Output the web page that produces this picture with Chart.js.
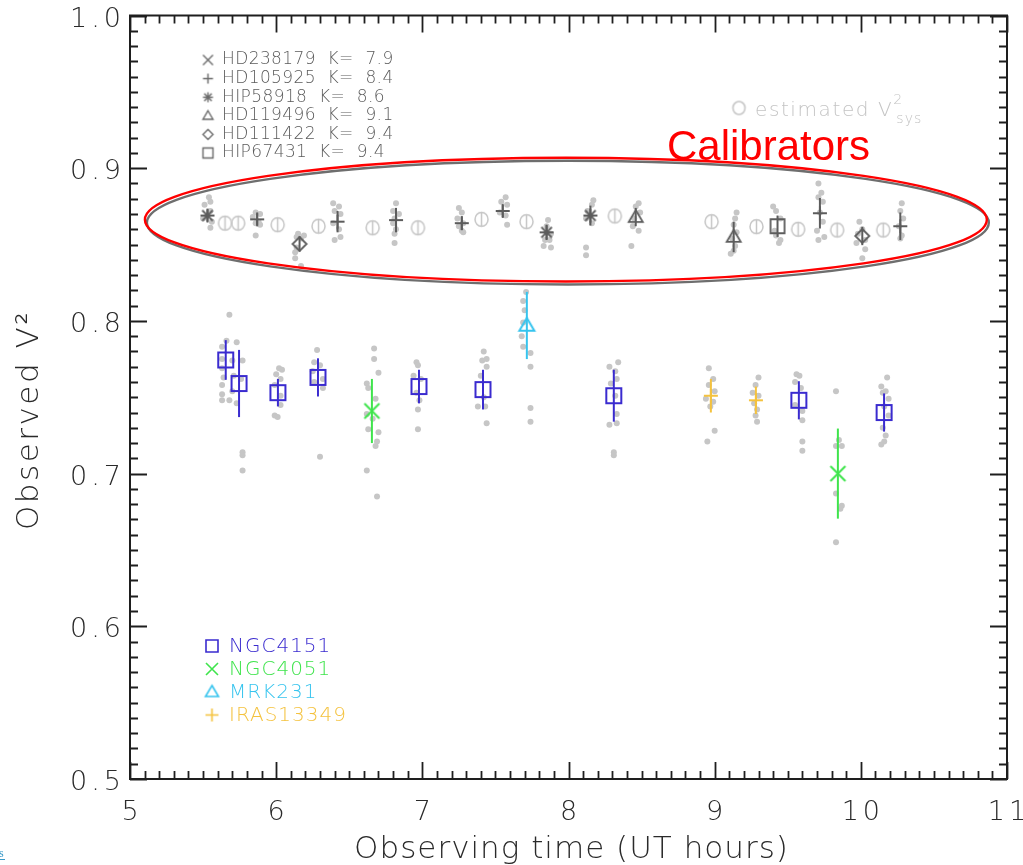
<!DOCTYPE html>
<html><head><meta charset="utf-8">
<script src="https://cdn.jsdelivr.net/npm/chart.js@4.4.1/dist/chart.umd.min.js"></script>
<style>html,body{margin:0;padding:0;background:#fff;}#wrap{width:1023px;height:865px;position:relative;}</style>
</head><body><div id="wrap"><canvas id="c" width="1023" height="865"></canvas></div>
<script>
// ---------- DATA ----------
const xRange = [5, 11];
const yRange = [0.5, 1.0];

const calNames = ['HD238179','HD105925','HIP58918','HD119496','HD111422','HIP67431'];
const calK     = ['7.9','8.4','8.6','9.1','9.4','9.4'];

// calibrator mean V2 per observation (calId = index into calNames)
const calTime = [5.53, 5.87, 6.16, 6.42, 6.82, 7.27, 7.55, 7.85, 8.15, 8.46, 9.13, 9.43, 9.72, 10.01, 10.27];
const calV2   = [0.869,0.8665,0.8504,0.865,0.866,0.864,0.872,0.858,0.869,0.868,0.855,0.862,0.8705,0.8556,0.862];
const calErr  = [0.004,0.004,0.005,0.007,0.008,0.0045,0.004,0.005,0.0065,0.006,0.010,0.007,0.010,0.006,0.009];
const calId   = [2, 1, 4, 1, 1, 1, 1, 2, 2, 3, 3, 5, 1, 4, 1];

// estimated V2_sys at science target times
const estTime = [5.65,5.74,6.01,6.29,6.66,6.97,7.405,7.713,8.317,8.979,9.286,9.571,9.838,10.153];
const estV2   = [0.864,0.864,0.863,0.862,0.861,0.861,0.8665,0.865,0.8687,0.865,0.8617,0.860,0.8595,0.8595];

const targetNames = ['NGC4151','NGC4051','MRK231','IRAS13349'];
const ngc4151T = [5.655,5.746,6.012,6.286,6.977,7.415,8.31,9.576,10.159];
const ngc4151V = [0.7744,0.759,0.753,0.763,0.757,0.755,0.751,0.748,0.740];
const ngc4151E = [0.013,0.022,0.009,0.0125,0.011,0.013,0.017,0.0125,0.0125];
const ngc4051T = [6.655, 9.843];
const ngc4051V = [0.741, 0.700];
const ngc4051E = [0.021, 0.0295];
const mrk231T  = [7.715];
const mrk231V  = [0.797];
const mrk231E  = [0.022];
const iras13349T = [8.974, 9.282];
const iras13349V = [0.751, 0.748];
const iras13349E = [0.011, 0.009];

// individual frames (time, V2)
const calFrames = [
 [5.54,0.881],[5.55,0.878],[5.51,0.876],[5.55,0.872],[5.50,0.867],[5.56,0.865],[5.55,0.861],
 [5.86,0.871],[5.89,0.870],[5.84,0.868],[5.88,0.865],[5.86,0.864],[5.89,0.863],[5.86,0.856],
 [6.15,0.857],[6.19,0.856],[6.14,0.855],[6.17,0.854],[6.14,0.848],[6.13,0.845],[6.13,0.841],[6.17,0.836],
 [6.39,0.877],[6.43,0.875],[6.40,0.872],[6.44,0.870],[6.39,0.864],[6.43,0.860],[6.44,0.855],[6.40,0.853],
 [6.82,0.877],[6.80,0.872],[6.84,0.870],[6.81,0.867],[6.80,0.864],[6.82,0.860],[6.81,0.857],[6.81,0.851],
 [7.25,0.874],[7.27,0.871],[7.24,0.867],[7.28,0.864],[7.25,0.862],[7.27,0.859],[7.28,0.858],
 [7.57,0.881],[7.54,0.878],[7.58,0.876],[7.53,0.871],[7.57,0.869],[7.58,0.863],
 [7.86,0.866],[7.85,0.862],[7.88,0.857],[7.84,0.853],[7.87,0.853],[7.83,0.849],[7.88,0.848],
 [8.17,0.879],[8.16,0.876],[8.13,0.872],[8.12,0.867],[8.16,0.864],[8.12,0.848],[8.12,0.843],
 [8.48,0.877],[8.46,0.875],[8.49,0.871],[8.45,0.867],[8.44,0.862],[8.48,0.859],[8.43,0.849],
 [9.15,0.871],[9.14,0.867],[9.13,0.863],[9.15,0.858],[9.12,0.854],[9.14,0.849],[9.13,0.846],[9.11,0.844],
 [9.40,0.875],[9.42,0.872],[9.45,0.867],[9.41,0.859],[9.42,0.856],[9.45,0.853],[9.44,0.851],
 [9.71,0.890],[9.73,0.884],[9.71,0.881],[9.74,0.878],[9.72,0.871],[9.74,0.865],[9.70,0.859],[9.75,0.855],[9.71,0.853],
 [9.99,0.865],[10.01,0.860],[9.98,0.857],[10.03,0.853],[9.97,0.851],[10.03,0.847],[10.01,0.841],
 [10.28,0.877],[10.27,0.872],[10.29,0.867],[10.26,0.862],[10.28,0.856],[10.27,0.854]
];
const targetFrames = [
 [5.68,0.804],[5.63,0.783],[5.66,0.787],[5.73,0.786],[5.63,0.775],[5.70,0.774],[5.77,0.774],[5.63,0.769],[5.64,0.763],[5.71,0.764],
 [5.76,0.762],[5.63,0.758],[5.70,0.754],[5.63,0.752],[5.63,0.748],[5.68,0.748],[5.73,0.746],[5.77,0.714],[5.77,0.712],[5.77,0.702],
 [6.02,0.769],[6.04,0.768],[6.00,0.765],[6.03,0.762],[5.99,0.758],[6.03,0.751],[6.03,0.745],[5.99,0.738],[6.01,0.737],
 [6.28,0.781],[6.26,0.773],[6.30,0.771],[6.25,0.767],[6.32,0.762],[6.26,0.760],[6.32,0.756],[6.30,0.711],
 [6.67,0.782],[6.67,0.775],[6.70,0.766],[6.62,0.759],[6.63,0.756],[6.68,0.749],[6.62,0.739],[6.66,0.736],[6.63,0.729],[6.70,0.727],
 [6.69,0.721],[6.68,0.718],[6.62,0.702],[6.69,0.685],
 [6.96,0.773],[6.97,0.771],[6.94,0.764],[6.99,0.762],[6.96,0.753],[6.98,0.748],[6.97,0.742],[6.97,0.729],
 [7.42,0.780],[7.41,0.774],[7.44,0.775],[7.44,0.770],[7.40,0.764],[7.42,0.750],[7.38,0.744],[7.43,0.744],[7.44,0.733],
 [7.71,0.819],[7.69,0.813],[7.70,0.807],[7.69,0.799],[7.68,0.790],[7.69,0.783],[7.74,0.779],[7.74,0.770],[7.74,0.743],[7.74,0.734],
 [8.28,0.770],[8.34,0.773],[8.32,0.767],[8.33,0.762],[8.29,0.759],[8.32,0.751],[8.33,0.739],[8.28,0.732],[8.33,0.733],[8.31,0.714],[8.31,0.712],
 [8.96,0.769],[8.99,0.762],[8.96,0.758],[9.00,0.754],[8.94,0.749],[8.99,0.747],[8.97,0.744],[9.00,0.728],[8.95,0.721],
 [9.30,0.763],[9.28,0.758],[9.26,0.753],[9.30,0.751],[9.27,0.746],[9.29,0.742],[9.28,0.738],[9.29,0.734],
 [9.56,0.765],[9.58,0.764],[9.55,0.760],[9.59,0.756],[9.55,0.745],[9.60,0.741],[9.60,0.735],[9.60,0.721],[9.60,0.715],
 [9.83,0.754],[9.85,0.722],[9.83,0.718],[9.87,0.718],[9.83,0.687],[9.87,0.679],[9.86,0.677],[9.83,0.655],
 [10.18,0.763],[10.14,0.757],[10.17,0.754],[10.15,0.753],[10.19,0.749],[10.16,0.744],[10.19,0.738],[10.15,0.730],[10.17,0.725],[10.16,0.721],[10.14,0.719]
];

// highlight ellipse round calibrators (data units)
const ellipseCentre = [7.982, 0.8663];
const ellipseRadii  = [2.88, 0.0405];

// ---------- STYLE ----------
const FONT = 'DejaVu Sans';
const CAL_COL = '#5c5c5c';
const EST_COL = '#c6c6c6';
const DOT_COL = '#c6c6c6';
const TCOL = {NGC4151:'#3a2bcf', NGC4051:'#3fe44c', MRK231:'#36c4ee', IRAS13349:'#f4c23e'};

function sym(kind, color, r, lw){
  const s = Math.ceil(2*r + 2*lw + 4);
  const c = document.createElement('canvas'); c.width = s; c.height = s;
  const g = c.getContext('2d'); const m = s/2;
  g.strokeStyle = color; g.lineWidth = lw; g.lineCap = 'butt';
  g.beginPath();
  if(kind==='square'){ g.rect(m-r, m-r, 2*r, 2*r); }
  else if(kind==='x'){ g.moveTo(m-r,m-r); g.lineTo(m+r,m+r); g.moveTo(m+r,m-r); g.lineTo(m-r,m+r); }
  else if(kind==='plus'){ g.moveTo(m-r,m); g.lineTo(m+r,m); g.moveTo(m,m-r); g.lineTo(m,m+r); }
  else if(kind==='star'){ const d=r*0.75; g.moveTo(m-r,m); g.lineTo(m+r,m); g.moveTo(m,m-r); g.lineTo(m,m+r);
     g.moveTo(m-d,m-d); g.lineTo(m+d,m+d); g.moveTo(m+d,m-d); g.lineTo(m-d,m+d); }
  else if(kind==='tri'){ g.moveTo(m, m-r); g.lineTo(m+r, m+r*0.7); g.lineTo(m-r, m+r*0.7); g.closePath(); }
  else if(kind==='diamond'){ g.moveTo(m, m-r); g.lineTo(m+r, m); g.lineTo(m, m+r); g.lineTo(m-r, m); g.closePath(); }
  else if(kind==='circle'){ g.ellipse(m, m, r*0.93, r, 0, 0, Math.PI*2); }
  else if(kind==='phi'){ g.ellipse(m, m, r*0.93, r, 0, 0, Math.PI*2); g.moveTo(m, m-r); g.lineTo(m, m+r); }
  g.stroke();
  return c;
}
const calKinds = ['x','plus','star','tri','diamond','square'];
const calSym = calKinds.map(k => sym(k, CAL_COL, 7, 1.8));
const calLegSym = calKinds.map(k => sym(k, '#6a6a6a', 5, 1.4));
const tgtSym = {
  NGC4151: sym('square', TCOL.NGC4151, 7.5, 2),
  NGC4051: sym('x', TCOL.NGC4051, 7.5, 2),
  MRK231: sym('tri', TCOL.MRK231, 7.5, 2),
  IRAS13349: sym('plus', TCOL.IRAS13349, 7, 2)
};
const tgtLegSym = {
  NGC4151: sym('square', TCOL.NGC4151, 6, 1.6),
  NGC4051: sym('x', TCOL.NGC4051, 6, 1.6),
  MRK231: sym('tri', TCOL.MRK231, 6.5, 1.6),
  IRAS13349: sym('plus', TCOL.IRAS13349, 6.5, 1.6)
};
const phiSym = sym('phi', EST_COL, 7, 1.5);
const estLegSym = sym('circle', EST_COL, 6.5, 1.6);

// ---------- DATASETS ----------
const datasets = [];
datasets.push({label:'cal frames', data: calFrames.map(p=>({x:p[0], y:p[1]})), pointRadius:3, pointStyle:'circle',
  backgroundColor:DOT_COL, borderWidth:0, order:20});
datasets.push({label:'target frames', data: targetFrames.map(p=>({x:p[0], y:p[1]})), pointRadius:3, pointStyle:'circle',
  backgroundColor:DOT_COL, borderWidth:0, order:20});
datasets.push({label:'estimated V2sys', data: estTime.map((t,i)=>({x:t, y:estV2[i]})), pointStyle:phiSym, order:10});
calNames.forEach((n, id) => {
  const idx = calId.map((c,i)=>c===id ? i : -1).filter(i=>i>=0);
  if(!idx.length) return;
  datasets.push({label:n, data: idx.map(i=>({x:calTime[i], y:calV2[i]})), errs: idx.map(i=>calErr[i]),
    barColor: CAL_COL, pointStyle: calSym[id], order:5});
});
const tgt = [
  ['NGC4151', ngc4151T, ngc4151V, ngc4151E],
  ['NGC4051', ngc4051T, ngc4051V, ngc4051E],
  ['MRK231', mrk231T, mrk231V, mrk231E],
  ['IRAS13349', iras13349T, iras13349V, iras13349E]
];
tgt.forEach(([n,T,V,E]) => {
  datasets.push({label:n, data: T.map((t,i)=>({x:t, y:V[i]})), errs:E, barColor:TCOL[n], pointStyle:tgtSym[n], order:1});
});

// ---------- PLUGIN ----------
const decor = {
  id:'decor',
  beforeDraw(chart){ chart.ctx.letterSpacing = '4px'; },
  afterDatasetsDraw(chart){
    const {ctx, scales:{x, y}} = chart;
    ctx.save();
    chart.data.datasets.forEach(ds => {
      if(!ds.errs) return;
      ctx.strokeStyle = ds.barColor; ctx.lineWidth = 2;
      ds.data.forEach((p,i) => {
        const px = x.getPixelForValue(p.x);
        ctx.beginPath();
        ctx.moveTo(px, y.getPixelForValue(p.y - ds.errs[i]));
        ctx.lineTo(px, y.getPixelForValue(p.y + ds.errs[i]));
        ctx.stroke();
      });
    });
    const cx = x.getPixelForValue(ellipseCentre[0]), cy = y.getPixelForValue(ellipseCentre[1]);
    const rx = x.getPixelForValue(ellipseCentre[0] + ellipseRadii[0]) - cx;
    const ry = cy - y.getPixelForValue(ellipseCentre[1] + ellipseRadii[1]);
    ctx.lineWidth = 2.4;
    ctx.strokeStyle = '#6e6e6e';
    ctx.beginPath(); ctx.ellipse(cx+2, cy+3, rx, ry, 0, 0, Math.PI*2); ctx.stroke();
    ctx.strokeStyle = '#ff0000';
    ctx.beginPath(); ctx.ellipse(cx, cy, rx, ry, 0, 0, Math.PI*2); ctx.stroke();
    ctx.restore();
  },
  afterDraw(chart){
    const {ctx, chartArea:a, scales:{x, y}} = chart;
    ctx.save();
    ctx.letterSpacing = '0px';
    ctx.strokeStyle = '#1e1e1e'; ctx.lineWidth = 2;
    ctx.strokeRect(a.left, a.top, a.right - a.left, a.bottom - a.top);
    ctx.lineWidth = 1.8;
    ctx.beginPath();
    for(let i=0;i<=50;i++){
      const v = yRange[0] + i*0.01; const py = Math.round(y.getPixelForValue(v)) + 0.5;
      const L = (i%10===0) ? 17 : 8;
      ctx.moveTo(a.left, py); ctx.lineTo(a.left + L, py);
      ctx.moveTo(a.right, py); ctx.lineTo(a.right - L, py);
    }
    for(let j=0;j<=60;j++){
      const v = xRange[0] + j*0.1; const px = Math.round(x.getPixelForValue(v)) + 0.5;
      const L = (j%10===0) ? 17 : 8;
      ctx.moveTo(px, a.bottom); ctx.lineTo(px, a.bottom - L);
      ctx.moveTo(px, a.top); ctx.lineTo(px, a.top + L);
    }
    ctx.stroke();

    // axis titles
    ctx.fillStyle = '#2a2a2a';
    ctx.font = `300 31px "${FONT}"`;
    ctx.textAlign = 'center'; ctx.textBaseline = 'alphabetic';
    ctx.letterSpacing = '1px';
    ctx.fillText('Observing time (UT hours)', (a.left + a.right)/2 + 3, 858);
    ctx.save();
    ctx.letterSpacing = '2.5px';
    ctx.translate(38, 420); ctx.rotate(-Math.PI/2);
    ctx.fillText('Observed V\u00B2', 0, 0);
    ctx.restore();

    // calibrator legend (top-left)
    ctx.font = `300 17px "${FONT}"`; ctx.textAlign = 'left'; ctx.textBaseline = 'middle';
    ctx.letterSpacing = '0.4px';
    ctx.fillStyle = '#5a5a5a';
    calNames.forEach((n,i) => {
      const yy = 60 + i*18.6;
      const s = calLegSym[i]; ctx.drawImage(s, 208 - s.width/2, yy - s.height/2);
      ctx.fillText(`${n}  K=  ${calK[i]}`, 222, yy);
    });

    // target legend (bottom-left)
    ctx.font = `300 20px "${FONT}"`;
    ctx.letterSpacing = '1px';
    targetNames.forEach((n,i) => {
      const yy = 646 + i*23;
      const s = tgtLegSym[n]; ctx.drawImage(s, 212 - s.width/2, yy - s.height/2);
      ctx.fillStyle = TCOL[n];
      ctx.fillText(n, 229, yy + 1);
    });

    // estimated V2sys key
    ctx.drawImage(estLegSym, 739 - estLegSym.width/2, 108 - estLegSym.height/2);
    ctx.fillStyle = '#c4c4c4';
    ctx.font = `300 20px "${FONT}"`; ctx.textBaseline = 'alphabetic';
    ctx.letterSpacing = '1.6px';
    const t1 = 'estimated V';
    ctx.fillText(t1, 755, 116);
    const w1 = ctx.measureText(t1).width;
    ctx.letterSpacing = '1px';
    ctx.font = `300 14px "${FONT}"`;
    ctx.fillText('2', 755 + w1, 104);
    ctx.fillText('sys', 755 + w1 + 3, 123);

    // Calibrators label
    ctx.letterSpacing = '0px';
    ctx.fillStyle = '#ff0000';
    ctx.font = '42px "Liberation Sans", Arial, sans-serif';
    ctx.fillText('Calibrators', 667, 160);

    // stray link fragment at bottom-left
    ctx.fillStyle = '#3a9ac8'; ctx.font = '12px "Liberation Serif", serif';
    ctx.fillText('s', -1, 857);
    ctx.fillRect(0, 859, 5, 1);
    ctx.restore();
  }
};

new Chart(document.getElementById('c'), {
  type: 'scatter',
  data: { datasets },
  options: {
    responsive: false, animation: false, devicePixelRatio: 1,
    layout: { padding: { top: 15.5, right: 16, left: 0, bottom: 0 } },
    plugins: { legend: { display: false }, tooltip: { enabled: false } },
    elements: { point: { radius: 3, hoverRadius: 3 } },
    scales: {
      x: {
        type: 'linear', min: xRange[0], max: xRange[1],
        grid: { display: false, drawTicks: false }, border: { display: false },
        ticks: { stepSize: 1, padding: 18, labelOffset: 2, color: '#2a2a2a', font: { family: FONT, size: 27, weight: '300' },
                 callback: v => String(v) },
        afterFit: s => { s.height = 86; s.paddingLeft = 0; s.paddingRight = 0; }
      },
      y: {
        type: 'linear', min: yRange[0], max: yRange[1],
        grid: { display: false, drawTicks: false }, border: { display: false },
        ticks: { stepSize: 0.1, padding: 5, labelOffset: 4, color: '#2a2a2a', font: { family: FONT, size: 27, weight: '300' },
                 callback: v => Number(v).toFixed(1) },
        afterFit: s => { s.width = 130; s.paddingTop = 0; s.paddingBottom = 0; }
      }
    }
  },
  plugins: [decor]
});
</script></body></html>
